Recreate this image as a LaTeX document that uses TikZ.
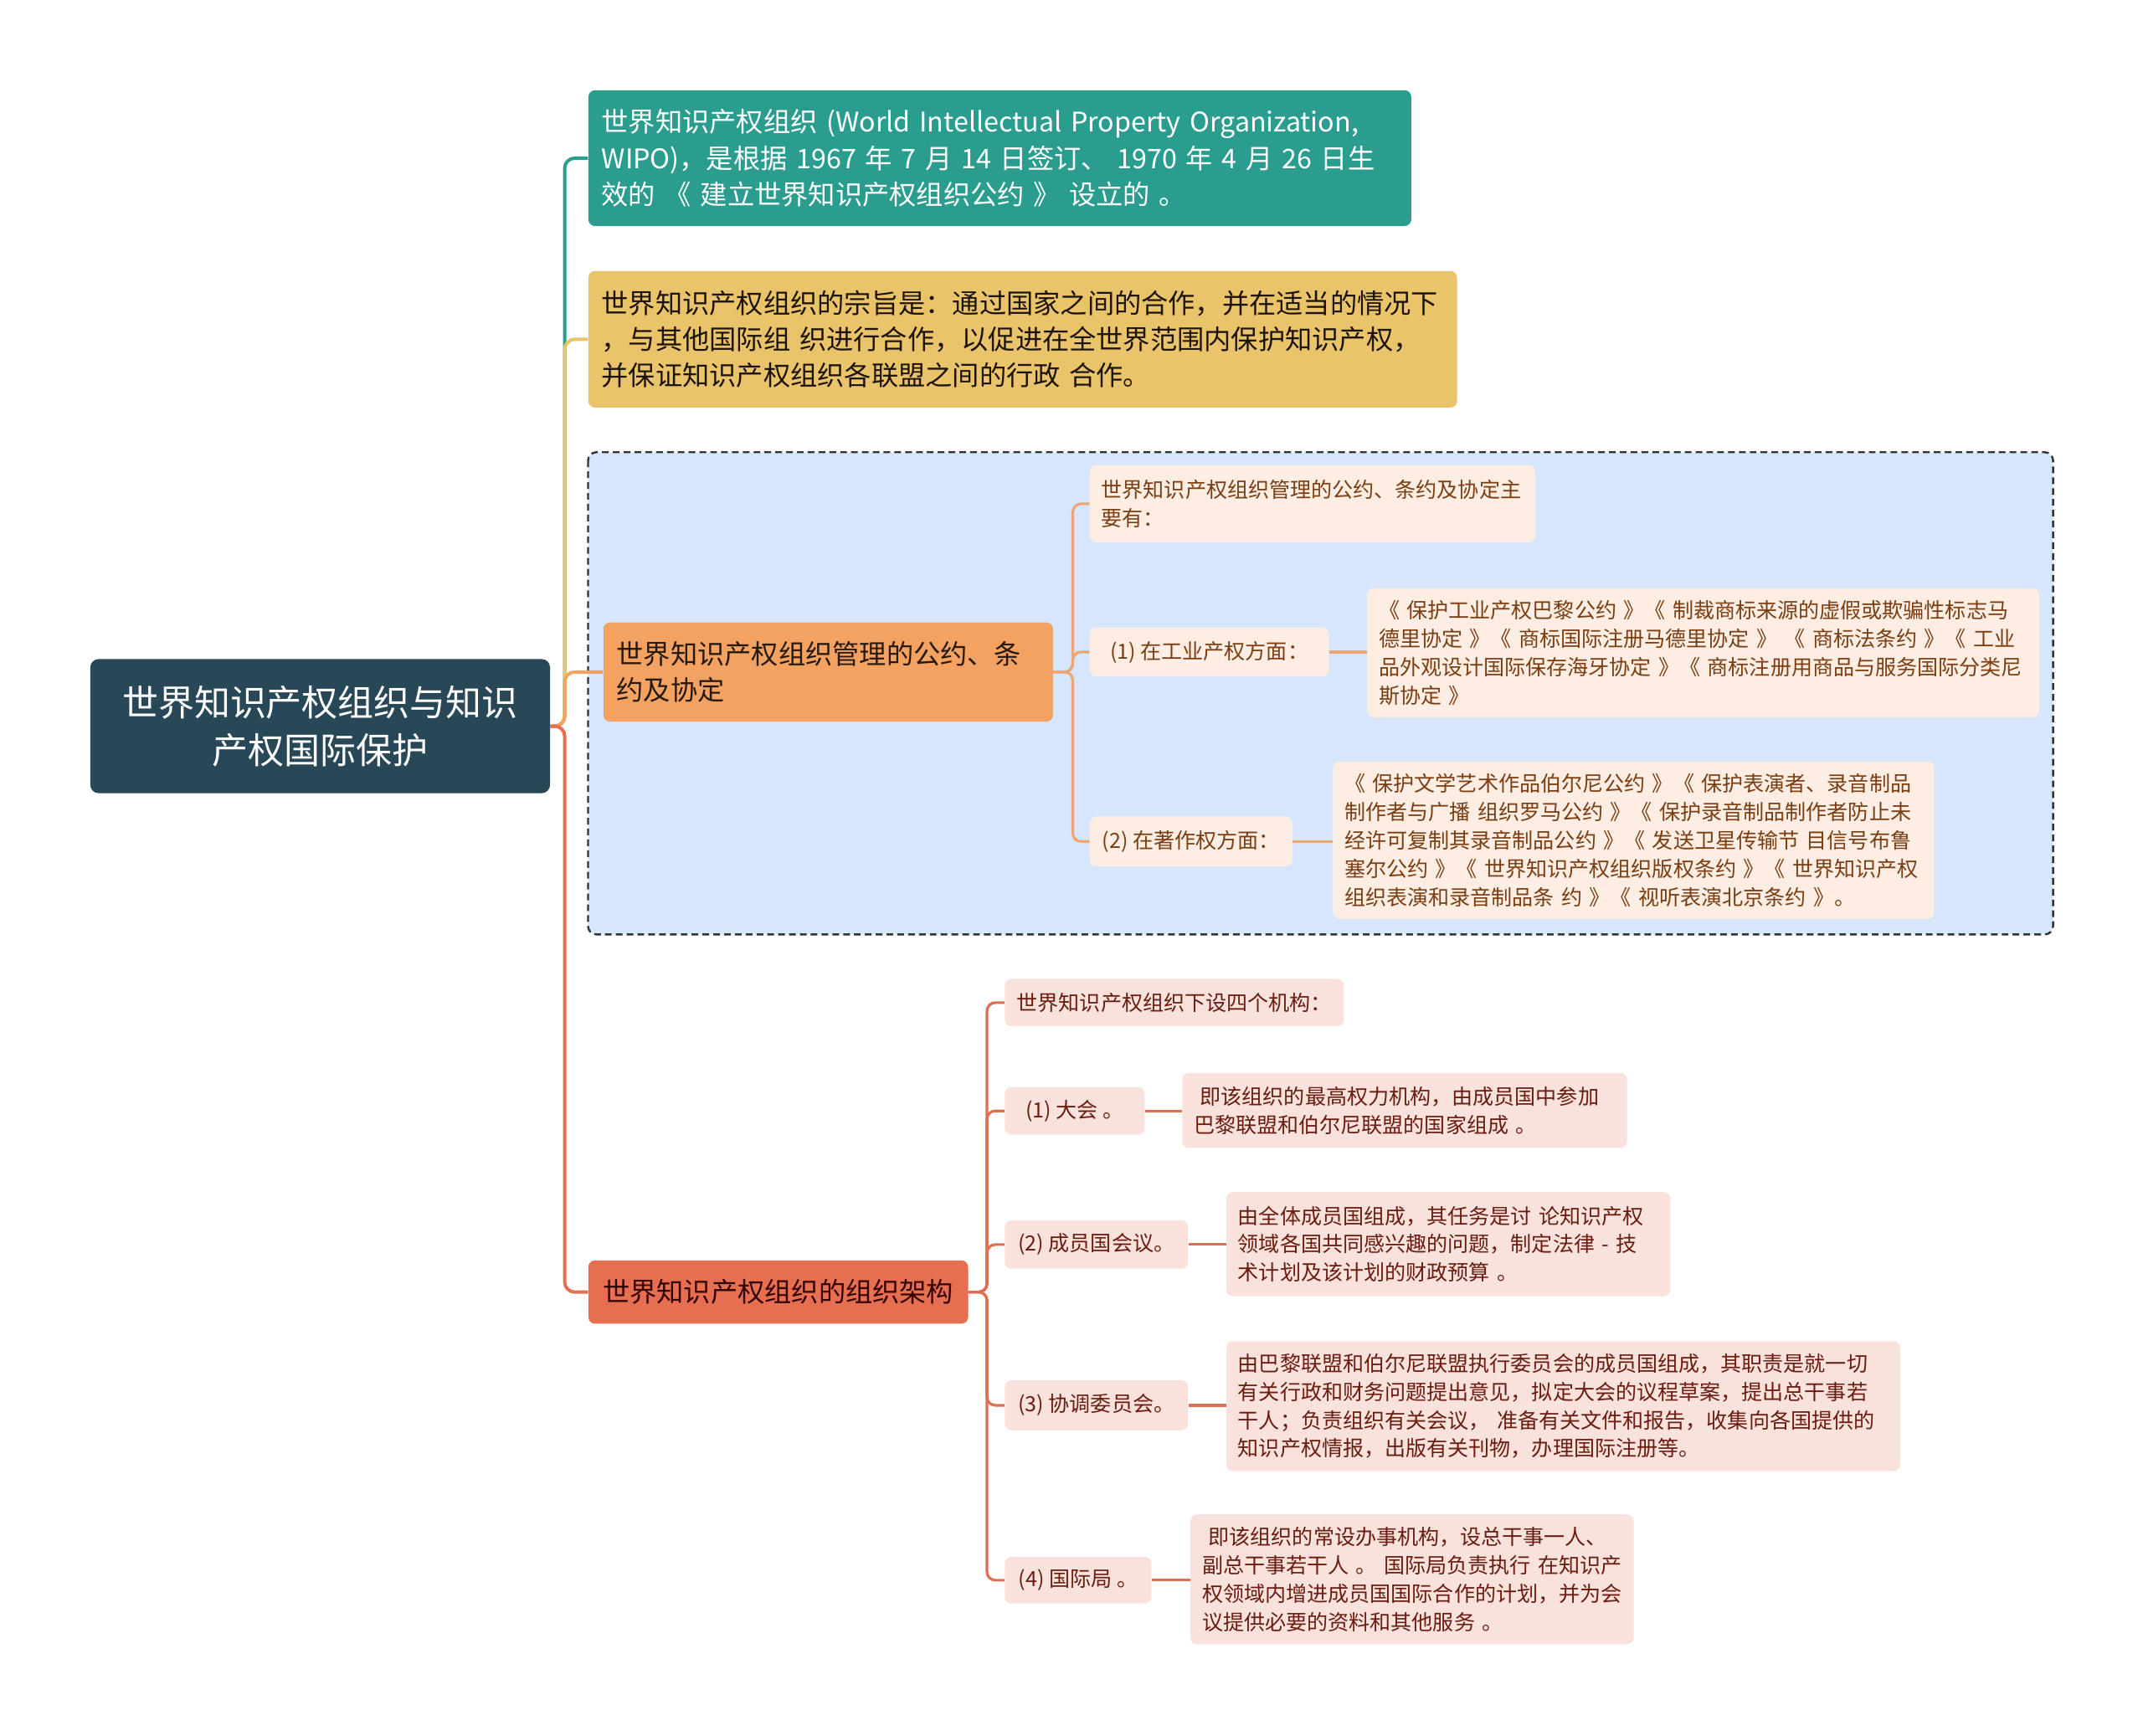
\documentclass[tikz,border=0pt]{standalone}
\usepackage{fontspec}
\setmainfont{Noto Sans CJK SC}

\definecolor{rootc}{HTML}{284857}
\definecolor{wipoc}{HTML}{2A9D8F}
\definecolor{aimc}{HTML}{E9C46A}
\definecolor{convc}{HTML}{F4A261}
\definecolor{orgc}{HTML}{E76F51}
\definecolor{regionc}{HTML}{D6E6FC}
\definecolor{convleaf}{HTML}{FDEDE2}
\definecolor{convtext}{HTML}{7A3E12}
\definecolor{convlink}{HTML}{EDA574}
\definecolor{orgleaf}{HTML}{F9E2DC}
\definecolor{orgtext}{HTML}{6A1C10}
\definecolor{orglink}{HTML}{DE6F52}

\begin{document}
\begin{tikzpicture}[x=0.5pt, y=-0.5pt,
  box/.style = {anchor=north west, rounded corners=4pt,
    inner xsep=8pt, inner ysep=0pt, align=left},
  big/.style = {font=\fontsize{16.2pt}{21.75pt}\selectfont},
  small/.style = {font=\fontsize{12.6pt}{17pt}\selectfont, inner xsep=7pt},
  convleafbox/.style = {box, small, fill=convleaf, text=convtext},
  orgleafbox/.style = {box, small, fill=orgleaf, text=orgtext},
  label/.style = {align=center},
  link/.style = {line width=2pt, rounded corners=6pt},
  sublink/.style = {line width=1.6pt, rounded corners=5pt}]

  \fill[white] (0,0) rectangle (2573,2084.5);
  \useasboundingbox (0,0) rectangle (2573,2084.5);

  % dashed region round the conventions branch
  \draw[fill=regionc, draw=black!80, dashed, dash pattern=on 4pt off 2.5pt,
    line width=1.2pt, rounded corners=5pt] (706,543) rectangle (2465,1122);

  \coordinate (trunk) at (678,0);
  \coordinate (convtrunk) at (1288,0);
  \coordinate (orgtrunk) at (1185,0);

  % root and main branches
  \node[box, fill=rootc, text=white, align=center, rounded corners=5pt,
    text width=260pt, minimum height=80.5pt,
    font=\fontsize{21.6pt}{28.5pt}\selectfont] (root) at (108,791)
    {世界知识产权组织与知识\\产权国际保护};

  \node[box, big, fill=wipoc, text=white, text width=478pt, minimum height=81.5pt] (wipo) at (706,108)
    {世界知识产权组织 (World Intellectual Property Organization,\\
     WIPO)，是根据 1967 年 7 月 14 日签订、 1970 年 4 月 26 日生\\
     效的 《 建立世界知识产权组织公约 》 设立的 。};

  \node[box, big, fill=aimc, text=black!85!brown, text width=505.5pt, minimum height=82pt] (aim) at (706,325)
    {世界知识产权组织的宗旨是：通过国家之间的合作，并在适当的情况下\\
     ，与其他国际组 织进行合作，以促进在全世界范围内保护知识产权，\\
     并保证知识产权组织各联盟之间的行政 合作。};

  \node[box, big, fill=convc, text=black!80!brown, text width=254pt, minimum height=59.5pt] (conv) at (724,747)
    {世界知识产权组织管理的公约、条\\约及协定};

  \node[box, big, fill=orgc, text=black!80!red, label, minimum width=228pt, minimum height=38pt] (org) at (706,1513)
    {世界知识产权组织的组织架构};

  % conventions
  \node[convleafbox, text width=253.5pt, minimum height=46.5pt] (convhead) at (1308,558)
    {世界知识产权组织管理的公约、条约及协定主\\要有：};
  \node[convleafbox, label, minimum width=143.5pt, minimum height=29.5pt] (ind) at (1308,753)
    {(1) 在工业产权方面：};
  \node[convleafbox, text width=389.5pt, minimum height=77.5pt] (inddet) at (1641,706)
    {《 保护工业产权巴黎公约 》《 制裁商标来源的虚假或欺骗性标志马\\
     德里协定 》《 商标国际注册马德里协定 》 《 商标法条约 》《 工业\\
     品外观设计国际保存海牙协定 》《 商标注册用商品与服务国际分类尼\\
     斯协定 》};
  \node[convleafbox, label, minimum width=121.5pt, minimum height=30pt] (copy) at (1308,980)
    {(2) 在著作权方面：};
  \node[convleafbox, text width=347pt, minimum height=94.5pt] (copydet) at (1600,914)
    {《 保护文学艺术作品伯尔尼公约 》《 保护表演者、录音制品\\
     制作者与广播 组织罗马公约 》《 保护录音制品制作者防止未\\
     经许可复制其录音制品公约 》《 发送卫星传输节 目信号布鲁\\
     塞尔公约 》《 世界知识产权组织版权条约 》《 世界知识产权\\
     组织表演和录音制品条 约 》《 视听表演北京条约 》。};

  % organs
  \node[orgleafbox, label, minimum width=203.5pt, minimum height=28.5pt] (orghead) at (1206,1175)
    {世界知识产权组织下设四个机构：};
  \node[orgleafbox, label, minimum width=84pt, minimum height=28.5pt] (ga) at (1206,1305)
    {(1) 大会 。};
  \node[orgleafbox, text width=253pt, minimum height=45pt] (gadet) at (1419,1288)
    {\hspace*{0.3em}即该组织的最高权力机构，由成员国中参加\\
     巴黎联盟和伯尔尼联盟的国家组成 。};
  \node[orgleafbox, label, minimum width=110pt, minimum height=29pt] (mc) at (1206,1465)
    {(2) 成员国会议。};
  \node[orgleafbox, text width=252.5pt, minimum height=62.5pt] (mcdet) at (1472,1431)
    {由全体成员国组成，其任务是讨 论知识产权\\
     领域各国共同感兴趣的问题，制定法律 - 技\\
     术计划及该计划的财政预算 。};
  \node[orgleafbox, label, minimum width=110pt, minimum height=30pt] (cc) at (1206,1657)
    {(3) 协调委员会。};
  \node[orgleafbox, text width=390.5pt, minimum height=78pt] (ccdet) at (1472,1610)
    {由巴黎联盟和伯尔尼联盟执行委员会的成员国组成，其职责是就一切\\
     有关行政和财务问题提出意见，拟定大会的议程草案，提出总干事若\\
     干人；负责组织有关会议， 准备有关文件和报告，收集向各国提供的\\
     知识产权情报，出版有关刊物，办理国际注册等。};
  \node[orgleafbox, label, minimum width=88pt, minimum height=28pt] (ib) at (1206,1869)
    {(4) 国际局 。};
  \node[orgleafbox, text width=252pt, minimum height=78pt] (ibdet) at (1429,1818)
    {\hspace*{0.3em}即该组织的常设办事机构，设总干事一人、\\
     副总干事若干人 。 国际局负责执行 在知识产\\
     权领域内增进成员国国际合作的计划，并为会\\
     议提供必要的资料和其他服务 。};

  % main links
  \draw[link, draw=wipoc] (root.east) -- (root.east -| trunk) |- (wipo.west);
  \draw[link, draw=aimc] (root.east) -- (root.east -| trunk) |- (aim.west);
  \draw[link, draw=convc] (root.east) -- (root.east -| trunk) |- (conv.west);
  \draw[link, draw=orgc] (root.east) -- (root.east -| trunk) |- (org.west);

  % conventions links
  \foreach \kid in {convhead, ind, copy}
    \draw[sublink, draw=convlink] (conv.east) -- (conv.east -| convtrunk) |- (\kid.west);
  \draw[sublink, draw=convlink] (ind.east) -- (ind.east -| inddet.west);
  \draw[sublink, draw=convlink] (copy.east) -- (copy.east -| copydet.west);

  % organ links
  \foreach \kid in {orghead, ga, mc, cc, ib}
    \draw[sublink, draw=orglink] (org.east) -- (org.east -| orgtrunk) |- (\kid.west);
  \draw[sublink, draw=orglink] (ga.east) -- (ga.east -| gadet.west);
  \draw[sublink, draw=orglink] (mc.east) -- (mc.east -| mcdet.west);
  \draw[sublink, draw=orglink] (cc.east) -- (cc.east -| ccdet.west);
  \draw[sublink, draw=orglink] (ib.east) -- (ib.east -| ibdet.west);
\end{tikzpicture}
\end{document}
